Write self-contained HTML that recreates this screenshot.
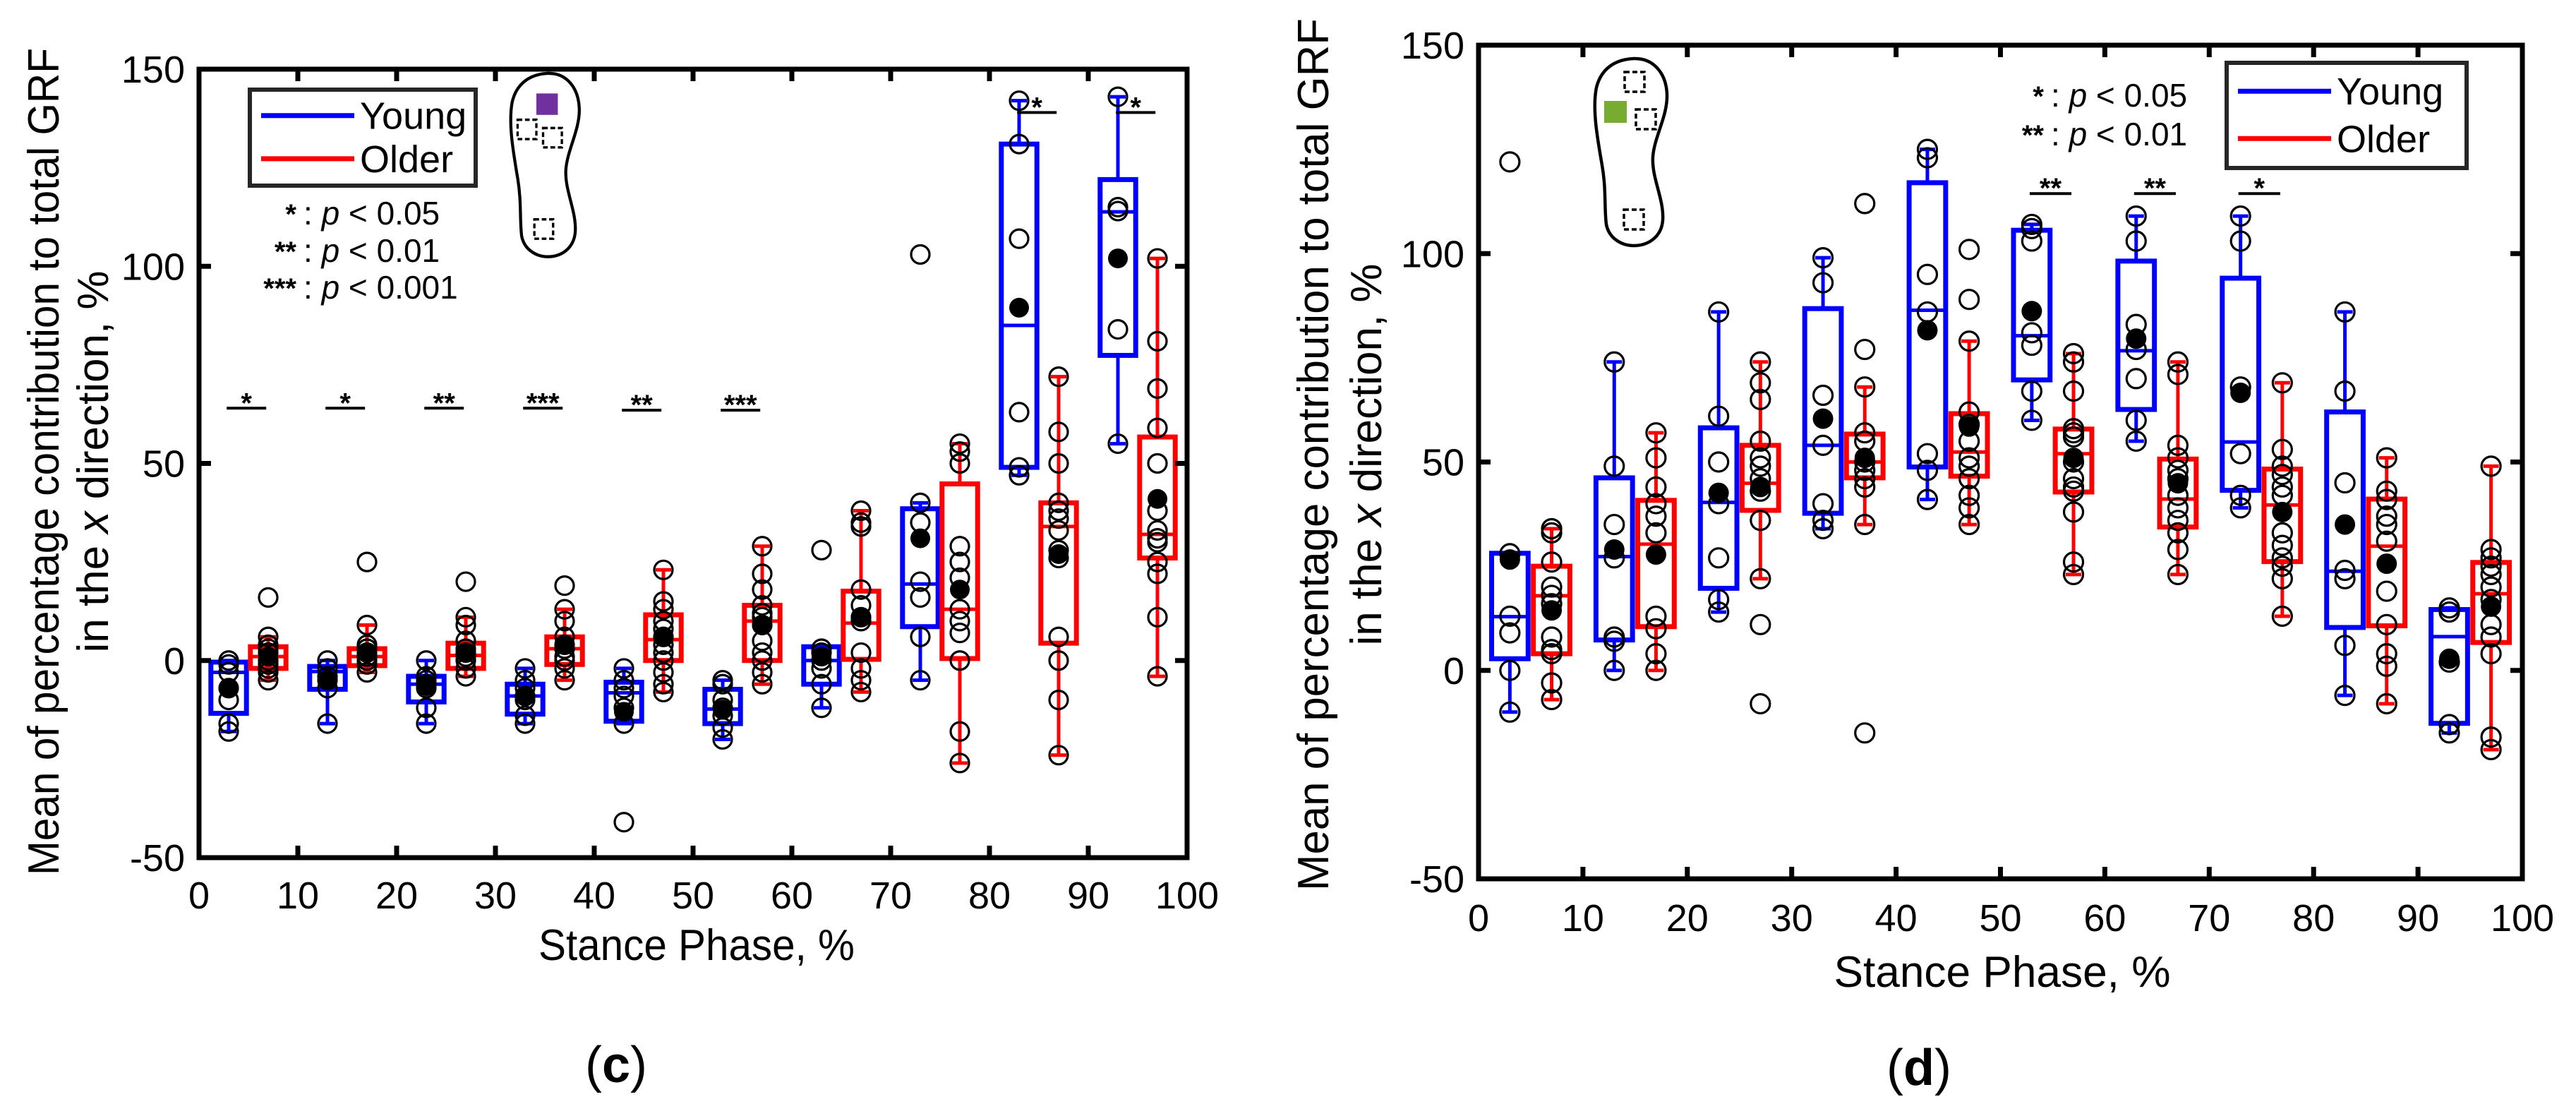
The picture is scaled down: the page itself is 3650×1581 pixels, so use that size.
<!DOCTYPE html>
<html><head><meta charset="utf-8">
<style>
html,body{margin:0;padding:0;background:#fff;}
svg{display:block;}
text{font-family:"Liberation Sans",Arial,sans-serif;fill:#000;}
</style></head>
<body>
<svg id="fig" xmlns="http://www.w3.org/2000/svg" width="3650" height="1581" viewBox="0 0 3650 1581">
<rect x="0" y="0" width="3650" height="1581" fill="#fff"/>
<g id="panelC"></g>
<g id="panelD"></g>
</svg>
<script>
// ---------- shared ----------
const groupX = [3,7,13,17,23,27,33,37,43,47,53,57,63,67,73,77,83,87,93,97];
const groupColor = ['#0000ff','#ff0000'];
const xTicks = [0,10,20,30,40,50,60,70,80,90,100];
const yTicks = [-50,0,50,100,150];

// ---------- panel (c) data ----------
const cQ3 = [-0.4,3.5,-1.5,3,-4,4.4,-6,6,-5.5,11.6,-7.3,14,3.5,17.6,38.5,44.8,131,40,122,56.7];
const cQ1 = [-13.4,-2,-7.3,-1.3,-10.5,-2,-13.6,-1,-15.4,0,-16,0,-6,0.3,8.6,0.5,49,4.4,77.4,26];
const cMed = [-3,1,-2.8,1,-6,1.3,-9,3,-8.2,5.3,-12.3,10,0,9.5,19.4,13,85,34,113.8,32];
const cMean = [-7,1,-5,2,-6.5,2,-9,4,-13,6,-12.5,9,1,11,31,18,89.5,27,102,41];
const cWLo = [-18,-5,-16,-3,-16,-4,-16,-5,-16,-8,-20,-6,-12,-8,-5,-26,47,-24,55,-4];
const cWHi = [0,6,0,9,0,11,-2,13,-2,23,-5,29,3,38,40,55,142,72,143,102];
const cPts = [
 [0,-1,-3,-7,-10,-16,-18],
 [16,6,4,3,2,0,-1,-2,-3,-5],
 [0,-2,-4,-5,-7,-16],
 [25,9,4,3,2,1,0,-1,-3],
 [0,-4,-5,-6,-7,-12,-16],
 [20,11,9,5,3,2,1,0,-2,-4],
 [-2,-5,-7,-9,-10,-14,-16],
 [19,13,10,6,4,3,1,0,-2,-5],
 [-2,-5,-7,-9,-12,-16,-41],
 [23,15,13,10,8,6,4,2,0,-3,-6,-8],
 [-5,-6,-10,-12,-14,-17,-20],
 [29,22,18,14,12,11,9,5,2,0,-3,-6],
 [28,3,2,0,-2,-6,-12],
 [38,35,34,18,14,11,10,2,-2,-5,-8],
 [103,40,35,20,16,6,-5],
 [55,53,50,29,25,21,13,10,7,0,-18,-26],
 [142,131,107,63,49,47],
 [72,58,50,40,38,36,33,28,26,6,0,-10,-24],
 [143,115,114,84,55],
 [102,81,69,59,50,38,33,31,30,25,22,11,-4]];
const cSigX = [3,13,23,33,43,53,83,93];
const cSigY = [64,64,64,64,63.5,63.5,139,139];
const cSigLabel = ['*','*','**','***','**','***','*','*'];

// ---------- panel (d) data ----------
const dQ3 = [28.1,25,46.2,40.8,58.2,54,86.8,56.7,117,61.6,105.6,57.9,98.2,50.7,94.1,48.3,62,41.1,14.6,25.9];
const dQ1 = [2.8,4,7.3,10.5,19.7,38.4,37.7,46.2,48.8,46.6,69.7,42.8,62.6,34.4,43.2,26.1,10.3,10.7,-12.7,6.7];
const dMed = [12.9,17.9,27.3,30.3,40.3,44.9,54,50,86.4,52.4,80.3,52,76.7,41.1,54.8,39.7,23.8,29.8,8.1,18.4];
const dMean = [26.6,14.4,29,27.8,42.6,44,60.4,51,81.6,58.5,86.2,51,79.6,44.9,66.6,38,35,25.6,2.8,15.3];
const dWLo = [-10,-7,0,0,14,22,34,35,41,35,60,23,55,23,39,13,-6,-8,-15,-19];
const dWHi = [28,34,74,57,86,74,99,68,125,79,107,76,109,74,109,69,86,51,15,49];
const dPts = [
 [122,28,13,9,0,-10],
 [34,33,26,20,18,16,8,5,4,-3,-7],
 [74,49,35,27,8,7,0],
 [57,51,44,40,37,33,13,10,4,0],
 [86,61,50,40,27,17,14],
 [74,69,65,55,51,49,46,43,36,22,11,-8],
 [99,93,66,54,40,36,34],
 [112,77,68,57,55,50,48,46,44,35,-15],
 [125,123,95,86,52,48,41],
 [101,89,79,62,59,55,51,49,46,42,39,35],
 [107,106,103,81,78,67,60],
 [76,74,67,58,57,56,50,46,44,43,38,26,23],
 [109,103,83,77,70,60,55],
 [74,71,54,51,48,46,42,39,36,33,29,23],
 [109,103,68,52,42,39],
 [69,53,49,47,44,42,33,30,27,25,22,13],
 [86,67,45,24,22,6,-6],
 [51,43,41,37,35,31,19,11,4,1,-8],
 [15,14,2,-13,-15],
 [49,29,27,25,23,20,17,11,8,4,-16,-19]];
const dSigX = [53,63,73];
const dSigY = [114.4,114.4,114.4];
const dSigLabel = ['**','**','*'];

const NS = 'http://www.w3.org/2000/svg';
function mk(parent, tag, attrs, txt){
  const e = document.createElementNS(NS, tag);
  for (const k in attrs) e.setAttribute(k, attrs[k]);
  if (txt !== undefined) e.textContent = txt;
  parent.appendChild(e);
  return e;
}

function drawPanel(g, P, Q3, Q1, Med, Mean, WLo, WHi, Pts, SigX, SigY, SigLabel){
  const X = v => P.x0 + (v/100)*(P.x1-P.x0);
  const Y = v => P.y1 - ((v+50)/200)*(P.y1-P.y0);
  const hw = P.boxHalf;
  for (let i=0;i<groupX.length;i++){
    const col = groupColor[i%2];
    const cx = X(groupX[i]);
    const gg = mk(g,'g',{});
    
    
    const w1 = mk(gg,'line',{x1:cx,x2:cx,y1:Y(Q3[i]),y2:Y(Math.max(WHi[i],Q3[i])),stroke:col,'stroke-width':5});
    
    
    const w2 = mk(gg,'line',{x1:cx,x2:cx,y1:Y(Q1[i]),y2:Y(Math.min(WLo[i],Q1[i])),stroke:col,'stroke-width':5});
    
    
    [WHi[i],WLo[i]].forEach(v=>{
      const c = mk(gg,'line',{x1:cx-11,x2:cx+11,y1:Y(v),y2:Y(v),stroke:col,'stroke-width':5});
      
      
    });
    const bx = X(groupX[i]-hw), bw = X(groupX[i]+hw)-bx;
    const r = mk(gg,'rect',{x:bx,y:Y(Q3[i]),width:bw,height:Y(Q1[i])-Y(Q3[i]),fill:'none',stroke:col,'stroke-width':7});
    
    
    const m = mk(gg,'line',{x1:bx,x2:bx+bw,y1:Y(Med[i]),y2:Y(Med[i]),stroke:col,'stroke-width':5});
    
    
    Pts[i].forEach(v=>{
      const p = mk(gg,'circle',{cx:cx,cy:Y(v),r:P.r,fill:'none',stroke:'#000','stroke-width':3.2});
      
      
    });
    const mn = mk(gg,'circle',{cx:cx,cy:Y(Mean[i]),r:P.r+1,fill:'#000'});
    
    
  }
  for (let i=0;i<SigX.length;i++){
    const y = Y(SigY[i]);
    const l = mk(g,'line',{x1:X(SigX[i]-0.2),x2:X(SigX[i]+3.8),y1:y,y2:y,stroke:'#000','stroke-width':4});
    
    
    const t = mk(g,'text',{x:X(SigX[i]+1.8),y:y+6,'text-anchor':'middle','font-size':40,'font-weight':'bold'},SigLabel[i]);
    
    
  }
  const fr = mk(g,'rect',{x:P.x0,y:P.y0,width:P.x1-P.x0,height:P.y1-P.y0,fill:'none',stroke:'#000','stroke-width':7});
  
  
  xTicks.forEach(v=>{
    const x = X(v);
    if (v>0 && v<100){
      mk(g,'line',{x1:x,x2:x,y1:P.y1,y2:P.y1-17,stroke:'#000','stroke-width':7});
      mk(g,'line',{x1:x,x2:x,y1:P.y0,y2:P.y0+17,stroke:'#000','stroke-width':7});
    }
    const t = mk(g,'text',{x:x,y:P.y1+P.xtOff,'text-anchor':'middle','font-size':54},String(v));
    
    
  });
  yTicks.forEach(v=>{
    const y = Y(v);
    if (v>-50 && v<150){
      mk(g,'line',{x1:P.x0,x2:P.x0+17,y1:y,y2:y,stroke:'#000','stroke-width':7});
      mk(g,'line',{x1:P.x1,x2:P.x1-17,y1:y,y2:y,stroke:'#000','stroke-width':7});
    }
    const t = mk(g,'text',{x:P.x0-20,y:y+19,'text-anchor':'end','font-size':54},String(v));
    
    
  });
}

const footPath = 'M57,1 C85,0 103,22 104,52 C105,82 86,112 84,140 C82,170 100,200 98,230 C96,255 76,266 57,266 C40,266 22,256 18,236 C15,212 18,186 12,152 C5,112 -2,72 4,42 C11,14 32,2 57,1 Z';
function drawFoot(g, ox, oy, sx, sy, filled, fillCol, dashed){
  const fg = mk(g,'g',{transform:'translate('+ox+','+oy+') scale('+sx+','+sy+')'});
  
  
  mk(fg,'path',{d:footPath,fill:'none',stroke:'#000','stroke-width':4.5});
  mk(fg,'rect',{x:filled[0],y:filled[1],width:32,height:31,fill:fillCol});
  dashed.forEach(d=>mk(fg,'rect',{x:d[0],y:d[1],width:28,height:28,fill:'none',stroke:'#000','stroke-width':3.5,'stroke-dasharray':'7,4'}));
}

function drawLegend(g, x, y, w, h){
  const lg = mk(g,'g',{});
  
  
  mk(lg,'rect',{x:x,y:y,width:w,height:h,fill:'#fff',stroke:'#262626','stroke-width':6});
  const ly = [y+h*0.27, y+h*0.72];
  const names = ['Young','Older'];
  for (let i=0;i<2;i++){
    const e = mk(lg,'g',{});
    
    
    mk(e,'line',{x1:x+16,x2:x+148,y1:ly[i],y2:ly[i],stroke:groupColor[i],'stroke-width':7});
    mk(e,'text',{x:x+156,y:ly[i]+19,'font-size':54},names[i]);
  }
}

function sigKey(g, xr, ys, labels, vals){
  for (let i=0;i<labels.length;i++){
    const k = mk(g,'g',{});
    
    
    mk(k,'text',{x:xr,y:ys[i]+15,'text-anchor':'end','font-size':40,'font-weight':'bold'},labels[i]);
    const t = mk(k,'text',{x:xr+10,y:ys[i]+16,'font-size':46});
    mk(t,'tspan',{},': ');
    mk(t,'tspan',{'font-style':'italic'},'p');
    mk(t,'tspan',{},' < '+vals[i]);
  }
}

function axisLabels(g, yl1x, yl2x, ylc, ylen, xlx, xly, xlen, tagx, tagy, tag){
  const a = mk(g,'text',{x:0,y:0,'text-anchor':'middle','font-size':62,textLength:ylen,lengthAdjust:'spacingAndGlyphs',transform:'translate('+(yl1x+22)+','+ylc+') rotate(-90)'},'Mean of percentage contribution to total GRF');
  
  
  const b = mk(g,'text',{x:0,y:0,'text-anchor':'middle','font-size':62,transform:'translate('+(yl2x+22)+','+ylc+') rotate(-90)'});
  
  
  mk(b,'tspan',{},'in the ');
  mk(b,'tspan',{'font-style':'italic'},'x');
  mk(b,'tspan',{},' direction, %');
  const c = mk(g,'text',{x:xlx,y:xly+22,'text-anchor':'middle','font-size':62,textLength:xlen,lengthAdjust:'spacingAndGlyphs'},'Stance Phase, %');
  
  
  const d = mk(g,'text',{x:tagx,y:tagy+24,'text-anchor':'middle','font-size':72,'font-family':'"Liberation Serif",serif'});
  
  
  mk(d,'tspan',{},'(');
  mk(d,'tspan',{'font-weight':'bold'},tag);
  mk(d,'tspan',{},')');
}

// ---- panel c ----
const gC = document.getElementById('panelC');
const PC = {x0:282,x1:1682,y0:98,y1:1215,boxHalf:1.8,r:13,xtOff:72};
drawPanel(gC, PC, cQ3, cQ1, cMed, cMean, cWLo, cWHi, cPts, cSigX, cSigY, cSigLabel);
drawLegend(gC, 354, 127, 320, 136);
sigKey(gC, 420, [302,355,407], ['*','**','***'], ['0.05','0.01','0.001']);
drawFoot(gC, 722, 103, 0.95, 0.98, [40,30], '#7030a0', [[12,68],[50,80],[37,212]]);
axisLabels(gC, 61, 131, 654, 1172, 987, 1338, 448, 873, 1509, 'c');

// ---- panel d ----
const gD = document.getElementById('panelD');
const PD = {x0:2095,x1:3574,y0:64,y1:1245,boxHalf:1.75,r:13.5,xtOff:74};
drawPanel(gD, PD, dQ3, dQ1, dMed, dMean, dWLo, dWHi, dPts, dSigX, dSigY, dSigLabel);
drawLegend(gD, 3155, 89, 340, 149);
sigKey(gD, 2896, [135,190], ['*','**'], ['0.05','0.01']);
drawFoot(gD, 2258, 82, 1.0, 1.0, [15,61], '#77ac30', [[44,20],[60,73],[43,215]]);
axisLabels(gD, 1860, 1935, 644, 1236, 2837, 1376, 477, 2719, 1513, 'd');
</script>
</body></html>
